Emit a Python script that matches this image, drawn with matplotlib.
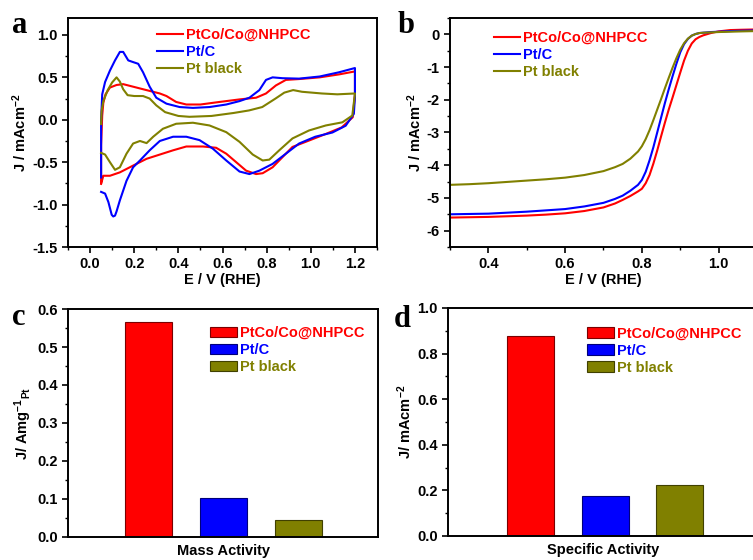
import matplotlib
matplotlib.use('Agg')
import matplotlib.pyplot as plt
from matplotlib.ticker import MultipleLocator
from matplotlib.patches import Patch
from matplotlib.lines import Line2D

plt.rcParams['font.family'] = ['Liberation Sans', 'DejaVu Sans']
plt.rcParams['font.weight'] = 'bold'
plt.rcParams['axes.labelweight'] = 'bold'
plt.rcParams['axes.unicode_minus'] = False
plt.rcParams['mathtext.fontset'] = 'custom'
plt.rcParams['mathtext.rm'] = 'Liberation Sans:bold'
plt.rcParams['mathtext.bf'] = 'Liberation Sans:bold'
plt.rcParams['mathtext.default'] = 'bf'

names = ['PtCo/Co@NHPCC', 'Pt/C', 'Pt black']
colors = ['#ff0000', '#0000ff', '#808000']

# (a) cyclic voltammograms (anodic sweep then cathodic)
cv_red_x = [0.05, 0.05, 0.055, 0.06, 0.07, 0.09, 0.12, 0.15, 0.195, 0.255, 0.316, 0.346, 0.39, 0.436,
            0.5, 0.586, 0.677, 0.752, 0.797, 0.842, 0.887, 0.947, 1.04, 1.128, 1.2,
            1.2, 1.19, 1.14, 1.07, 0.977, 0.917, 0.872, 0.827, 0.782, 0.752, 0.707, 0.662,
            0.617, 0.571, 0.511, 0.436, 0.376, 0.316, 0.256, 0.195, 0.135, 0.09, 0.06, 0.05]
cv_red_y = [-0.74, -0.3, 0.05, 0.2, 0.3, 0.38, 0.41, 0.42, 0.39, 0.35, 0.31, 0.28, 0.21, 0.18,
            0.18, 0.21, 0.24, 0.26, 0.31, 0.405, 0.47, 0.48, 0.5, 0.535, 0.57,
            0.3, 0.03, -0.09, -0.165, -0.26, -0.32, -0.44, -0.56, -0.63, -0.64, -0.6, -0.5,
            -0.4, -0.33, -0.315, -0.315, -0.36, -0.41, -0.46, -0.54, -0.62, -0.66, -0.66, -0.756]

cv_blue_x = [0.05, 0.05, 0.055, 0.068, 0.09, 0.113, 0.135, 0.15, 0.173, 0.195, 0.218, 0.24, 0.27,
             0.3, 0.346, 0.406, 0.466, 0.541, 0.617, 0.677, 0.722, 0.767, 0.797, 0.827, 0.872,
             0.947, 1.04, 1.128, 1.2,
             1.2, 1.195, 1.158, 1.098, 1.02, 0.947, 0.887, 0.827, 0.767, 0.722, 0.677, 0.617,
             0.556, 0.496, 0.436, 0.376, 0.316, 0.27, 0.226, 0.195, 0.165, 0.135, 0.12, 0.113,
             0.105, 0.098, 0.083, 0.068, 0.05]
cv_blue_y = [-0.68, 0.0, 0.3, 0.445, 0.58, 0.7, 0.8, 0.8, 0.7, 0.68, 0.66, 0.56, 0.39,
             0.26, 0.19, 0.15, 0.14, 0.15, 0.18, 0.22, 0.26, 0.35, 0.47, 0.5, 0.49,
             0.485, 0.51, 0.56, 0.61,
             0.27, 0.07, -0.07, -0.15, -0.2, -0.28, -0.4, -0.52, -0.6, -0.64, -0.61, -0.48,
             -0.34, -0.24, -0.2, -0.2, -0.25, -0.36, -0.48, -0.56, -0.72, -0.95, -1.08, -1.13,
             -1.14, -1.12, -0.97, -0.87, -0.85]

cv_olive_x = [0.05, 0.052, 0.06, 0.08, 0.1, 0.12, 0.135, 0.15, 0.17, 0.2, 0.24, 0.27, 0.3, 0.34,
              0.4, 0.45, 0.55, 0.65, 0.72, 0.78, 0.84, 0.88, 0.92, 0.96, 1.05, 1.12, 1.2,
              1.2, 1.188, 1.143, 1.068, 0.992, 0.917, 0.857, 0.812, 0.782, 0.737, 0.677,
              0.617, 0.541, 0.466, 0.39, 0.33, 0.286, 0.256, 0.226, 0.195, 0.165, 0.135,
              0.113, 0.09, 0.068, 0.05]
cv_olive_y = [-0.05, 0.1, 0.22, 0.35, 0.44, 0.5, 0.45, 0.36, 0.29, 0.28, 0.28, 0.25, 0.17, 0.09,
              0.045, 0.035, 0.045, 0.08, 0.11, 0.15, 0.25, 0.32, 0.35, 0.33, 0.31, 0.3, 0.31,
              0.31, 0.05, -0.03, -0.067, -0.126, -0.22, -0.36, -0.47, -0.48, -0.41, -0.26,
              -0.146, -0.067, -0.035, -0.047, -0.106, -0.2, -0.275, -0.25, -0.28, -0.4, -0.56,
              -0.59, -0.5, -0.41, -0.39]

# (b) ORR polarisation curves
lsv_x = [0.30, 0.35, 0.40, 0.45, 0.50, 0.55, 0.60, 0.65, 0.70, 0.73, 0.75, 0.77, 0.79, 0.80,
         0.81, 0.82, 0.83, 0.84, 0.85, 0.86, 0.87, 0.88, 0.89, 0.90, 0.91, 0.92, 0.93, 0.94,
         0.95, 0.96, 0.98, 1.00, 1.03, 1.06, 1.10]
lsv_red = [-5.60, -5.59, -5.58, -5.56, -5.54, -5.51, -5.47, -5.40, -5.29, -5.17, -5.06, -4.94,
           -4.80, -4.72, -4.55, -4.30, -3.95, -3.55, -3.12, -2.70, -2.30, -1.93, -1.55, -1.17,
           -0.80, -0.50, -0.28, -0.15, -0.08, -0.03, 0.04, 0.09, 0.13, 0.14, 0.15]
lsv_blue = [-5.50, -5.49, -5.48, -5.45, -5.42, -5.38, -5.34, -5.26, -5.15, -5.03, -4.93, -4.78,
            -4.60, -4.45, -4.20, -3.85, -3.45, -3.00, -2.55, -2.10, -1.68, -1.28, -0.90, -0.55,
            -0.30, -0.14, -0.04, 0.01, 0.04, 0.05, 0.07, 0.08, 0.10, 0.11, 0.12]
lsv_olive = [-4.60, -4.58, -4.55, -4.51, -4.47, -4.43, -4.38, -4.30, -4.18, -4.06, -3.96, -3.80,
             -3.58, -3.42, -3.20, -2.93, -2.62, -2.30, -1.98, -1.65, -1.33, -1.02, -0.73, -0.47,
             -0.27, -0.13, -0.04, 0.01, 0.04, 0.05, 0.06, 0.07, 0.08, 0.09, 0.10]

# (c), (d) activities
mass_activity = [0.566, 0.103, 0.044]
specific_activity = [0.875, 0.177, 0.222]

fig = plt.figure(figsize=(7.53, 5.60), dpi=100)
ax_a = fig.add_axes([0.0903, 0.5589, 0.4104, 0.409])
ax_b = fig.add_axes([0.5976, 0.5589, 0.4077, 0.409])
ax_c = fig.add_axes([0.0903, 0.0411, 0.4117, 0.4071])
ax_d = fig.add_axes([0.595, 0.0429, 0.412, 0.4071])

fs = 10.5


def style(ax):
    for s in ax.spines.values():
        s.set_linewidth(1.4)
    ax.tick_params(which='major', direction='out', length=4, width=1.2, labelsize=fs)
    ax.tick_params(which='minor', direction='out', length=2.5, width=1.0)
    ax.tick_params(top=False, right=False, which='both')


lw = 1.5
ax_a.plot(cv_red_x, cv_red_y, color=colors[0], lw=lw)
ax_a.plot(cv_blue_x, cv_blue_y, color=colors[1], lw=lw)
ax_a.plot(cv_olive_x, cv_olive_y, color=colors[2], lw=lw)
ax_a.set_xlim(-0.1, 1.3)
ax_a.set_ylim(-1.5, 1.2)
ax_a.xaxis.set_major_locator(MultipleLocator(0.2))
ax_a.xaxis.set_minor_locator(MultipleLocator(0.1))
ax_a.yaxis.set_major_locator(MultipleLocator(0.5))
ax_a.yaxis.set_minor_locator(MultipleLocator(0.25))
ax_a.set_xlabel('E / V (RHE)', fontsize=fs, labelpad=1)
ax_a.set_ylabel('J / mAcm$^{-2}$', fontsize=fs, labelpad=2)
style(ax_a)

ax_b.plot(lsv_x, lsv_red, color=colors[0], lw=lw)
ax_b.plot(lsv_x, lsv_blue, color=colors[1], lw=lw)
ax_b.plot(lsv_x, lsv_olive, color=colors[2], lw=lw)
ax_b.set_xlim(0.3, 1.1)
ax_b.set_ylim(-6.5, 0.5)
ax_b.xaxis.set_major_locator(MultipleLocator(0.2))
ax_b.xaxis.set_minor_locator(MultipleLocator(0.1))
ax_b.yaxis.set_major_locator(MultipleLocator(1))
ax_b.yaxis.set_minor_locator(MultipleLocator(0.5))
ax_b.set_xlabel('E / V (RHE)', fontsize=fs, labelpad=1)
ax_b.set_ylabel('J / mAcm$^{-2}$', fontsize=fs, labelpad=2)
style(ax_b)

for ax, lx, ly in [(ax_a, 0.288, 0.957), (ax_b, 0.143, 0.943)]:
    handles = [Line2D([], [], color=c, lw=lw) for c in colors]
    leg = ax.legend(handles, names, loc='upper left', bbox_to_anchor=(lx, ly), frameon=False,
                    fontsize=fs, handlelength=1.8, handletextpad=0.2, labelspacing=0.2,
                    borderpad=0, borderaxespad=0)
    for t, c in zip(leg.get_texts(), colors):
        t.set_color(c)

pos = [1, 2, 3]
edge = ['#7a0000', '#00007a', '#404000']
ax_c.bar(pos, mass_activity, width=0.63, color=colors, edgecolor=edge, linewidth=0.8)
ax_c.set_xlim(-0.08, 4.07)
ax_c.set_ylim(0, 0.6)
ax_c.yaxis.set_major_locator(MultipleLocator(0.1))
ax_c.yaxis.set_minor_locator(MultipleLocator(0.05))
ax_c.set_xticks([])
ax_c.set_xlabel('Mass Activity', fontsize=fs, labelpad=5)
ax_c.set_ylabel('J/ Amg$^{-1}$$_{Pt}$', fontsize=fs, labelpad=2)
style(ax_c)

ax_d.bar(pos, specific_activity, width=0.63, color=colors, edgecolor=edge, linewidth=0.8)
ax_d.set_xlim(-0.11, 4.05)
ax_d.set_ylim(0, 1.0)
ax_d.yaxis.set_major_locator(MultipleLocator(0.2))
ax_d.yaxis.set_minor_locator(MultipleLocator(0.1))
ax_d.set_xticks([])
ax_d.set_xlabel('Specific Activity', fontsize=fs, labelpad=5)
ax_d.set_ylabel('J/ mAcm$^{-2}$', fontsize=fs, labelpad=2)
style(ax_d)

for ax, lx, ly in [(ax_c, 0.458, 0.925), (ax_d, 0.448, 0.917)]:
    handles = [Patch(facecolor=c, edgecolor=e, lw=0.8) for c, e in zip(colors, edge)]
    leg = ax.legend(handles, names, loc='upper left', bbox_to_anchor=(lx, ly), frameon=False,
                    fontsize=fs, handlelength=1.85, handleheight=0.75, handletextpad=0.2,
                    labelspacing=0.2, borderpad=0, borderaxespad=0)
    for t, c in zip(leg.get_texts(), colors):
        t.set_color(c)

for letter, x, y in [('a', 12, 33), ('b', 398, 33), ('c', 12, 325), ('d', 394, 327)]:
    fig.text(x / 753, 1 - y / 560, letter, fontsize=22, fontweight='bold',
             family='Liberation Serif', va='baseline', ha='left')

fig.savefig('out.png', dpi=100)
